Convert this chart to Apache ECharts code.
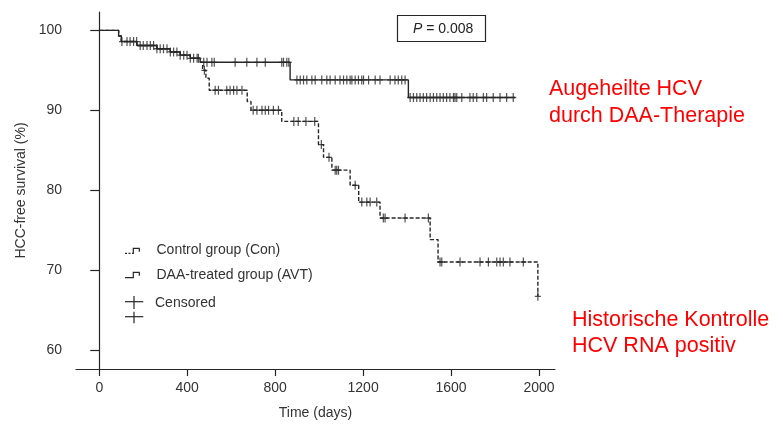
<!DOCTYPE html>
<html>
<head>
<meta charset="utf-8">
<script src="https://cdn.jsdelivr.net/npm/echarts@6/dist/echarts.min.js"></script>
<style>
  html, body { margin: 0; padding: 0; background: #fff; }
  #main { width: 783px; height: 425px; }
</style>
</head>
<body>
<div id="main"></div>
<script>
// Kaplan-Meier steps [day, survival %] (value holds until next point)
var daaSteps = [[0, 100], [88, 99.3], [100, 98.6], [171, 98.1], [262, 97.7], [323, 97.3], [368, 96.9], [414, 96.5],
  [459, 96.0], [868, 93.8], [1406, 91.6], [1891, 91.6]];
var conSteps = [[0, 100], [88, 99.3], [100, 98.6], [171, 98.1], [262, 97.7], [323, 97.3], [368, 96.9], [414, 96.5],
  [459, 96.0], [470, 95.0], [485, 94.0], [500, 92.5], [673, 91.1], [690, 90.0], [830, 88.6], [997, 85.7],
  [1020, 84.1], [1058, 82.5], [1141, 80.6], [1180, 78.5], [1277, 76.5], [1505, 73.8], [1541, 71.0], [1995, 66.7]];

// censored observation days
var daaCensor = [103, 126, 140, 156, 170, 186, 200, 217, 232, 247, 262, 277, 292, 308, 323, 338, 353, 368, 384, 399,
  414, 429, 445, 451, 475, 490, 512, 523, 618, 671, 717, 755, 830, 838, 853, 862,
  899, 914, 929, 944, 967, 982, 1012, 1035, 1050, 1073, 1095, 1111, 1126, 1141, 1149, 1164, 1179, 1194, 1202,
  1225, 1255, 1277, 1323, 1345, 1360, 1376, 1391,
  1414, 1429, 1444, 1459, 1474, 1489, 1505, 1520, 1535, 1550, 1565, 1580, 1595, 1611, 1618, 1626, 1649, 1686,
  1701, 1717, 1747, 1762, 1792, 1823, 1853, 1883];
var conCensor = [478, 527, 542, 580, 595, 611, 626, 649, 700, 717, 740, 755, 770, 792, 815, 885, 905, 940, 980,
  1010, 1045, 1073, 1080, 1088, 1164, 1194, 1217, 1232, 1262, 1292, 1300, 1391, 1497,
  1550, 1558, 1641, 1732, 1770, 1808, 1823, 1838, 1868, 1929, 1995];

var xTicks = [0, 400, 800, 1200, 1600, 2000];
var yTicks = [60, 70, 80, 90, 100];

var pText = 'P';
var pValue = ' = 0.008';
var legendNames = ['Control group (Con)', 'DAA-treated group (AVT)', 'Censored'];
var noteDaa = ['Augeheilte HCV', 'durch DAA-Therapie'];
var noteCon = ['Historische Kontrolle', 'HCV RNA positiv'];

var FONT = "'Liberation Sans', Arial, Helvetica, sans-serif";
var INK = '#262626';

// survival at a given day from step list
function valueAt(steps, day) {
  var v = steps[0][1];
  for (var i = 0; i < steps.length; i++) {
    if (steps[i][0] <= day) v = steps[i][1];
  }
  return v;
}
function censorPoints(steps, days) {
  return days.map(function (d) { return [d, valueAt(steps, d)]; });
}

var plus = 'path://M0,3.4L8,3.4L8,4.6L0,4.6Z M3.2,0L4.8,0L4.8,8L3.2,8Z';

var chart = echarts.init(document.getElementById('main'));
chart.setOption({
  animation: false,
  grid: { left: 76, right: 228, top: 12, bottom: 54 },
  xAxis: {
    type: 'value', min: -106, max: 2073,
    name: 'Time (days)', nameLocation: 'middle', nameGap: 37,
    nameTextStyle: { fontFamily: FONT, fontSize: 14, color: '#333' },
    axisLine: { show: true, onZero: false, lineStyle: { color: INK, width: 1.2 } },
    axisTick: { show: true, length: 7, customValues: xTicks, lineStyle: { color: INK, width: 1.2 } },
    axisLabel: { customValues: xTicks, margin: 12, fontFamily: FONT, fontSize: 14, color: '#333',
      formatter: function (v) { return String(v); } },
    splitLine: { show: false }
  },
  yAxis: {
    type: 'value', min: 57.6, max: 102.3,
    name: 'HCC-free survival (%)', nameLocation: 'middle', nameGap: 34, nameRotate: 90,
    nameTextStyle: { fontFamily: FONT, fontSize: 14, color: '#333' },
    axisLine: { show: true, lineStyle: { color: INK, width: 1.2 } },
    axisTick: { show: true, length: 9, customValues: yTicks, lineStyle: { color: INK, width: 1.2 } },
    axisLabel: { customValues: yTicks, margin: 14, fontFamily: FONT, fontSize: 14, color: '#333',
      formatter: function (v) { return String(v); } },
    splitLine: { show: false }
  },
  series: [
    {
      name: 'Control group (Con)', type: 'line', step: 'end', data: conSteps,
      showSymbol: false, silent: true,
      lineStyle: { color: INK, width: 1.4, type: [4, 2] }
    },
    {
      name: 'DAA-treated group (AVT)', type: 'line', step: 'end', data: daaSteps,
      showSymbol: false, silent: true,
      lineStyle: { color: INK, width: 1.4 }
    },
    {
      name: 'Censored', type: 'scatter', data: censorPoints(conSteps, conCensor),
      symbol: plus, symbolSize: [6, 9], silent: true,
      itemStyle: { color: INK }
    },
    {
      name: 'Censored', type: 'scatter', data: censorPoints(daaSteps, daaCensor),
      symbol: plus, symbolSize: [6, 9], silent: true,
      itemStyle: { color: INK }
    }
  ],
  graphic: [
    // p-value box
    { type: 'rect', shape: { x: 397.5, y: 15.5, width: 88, height: 26 },
      style: { fill: 'none', stroke: INK, lineWidth: 1.2 } },
    { type: 'text', x: 413, y: 29,
      style: { text: '{p|' + pText + '}' + pValue, fontFamily: FONT, fontSize: 14, fill: '#222',
        verticalAlign: 'middle',
        rich: { p: { fontStyle: 'italic', fontFamily: FONT, fontSize: 14, fill: '#222' } } } },
    // legend
    { type: 'line', shape: { x1: 125, y1: 253.3, x2: 132, y2: 253.3 },
      style: { stroke: INK, lineWidth: 1.2, lineDash: [2, 1.5] } },
    { type: 'polyline', shape: { points: [[132, 253.3], [133.3, 253.3], [133.3, 248.3], [139.3, 248.3], [139.3, 251.7]] },
      style: { stroke: INK, lineWidth: 1.2, fill: 'none' } },
    { type: 'polyline', shape: { points: [[125, 277.7], [133.3, 277.7], [133.3, 272.3], [139.3, 272.3], [139.3, 275.7]] },
      style: { stroke: INK, lineWidth: 1.2, fill: 'none' } },
    { type: 'line', shape: { x1: 125, y1: 301.7, x2: 143.3, y2: 301.7 }, style: { stroke: INK, lineWidth: 1.2 } },
    { type: 'line', shape: { x1: 134, y1: 296, x2: 134, y2: 309 }, style: { stroke: INK, lineWidth: 1.2 } },
    { type: 'line', shape: { x1: 125, y1: 316.7, x2: 143.3, y2: 316.7 }, style: { stroke: INK, lineWidth: 1.2 } },
    { type: 'line', shape: { x1: 134, y1: 311.7, x2: 134, y2: 323.3 }, style: { stroke: INK, lineWidth: 1.2 } },
    { type: 'text', x: 156.5, y: 250,
      style: { text: legendNames[0], fontFamily: FONT, fontSize: 14, fill: '#333', verticalAlign: 'middle' } },
    { type: 'text', x: 156.5, y: 275,
      style: { text: legendNames[1], fontFamily: FONT, fontSize: 14, fill: '#333', verticalAlign: 'middle' } },
    { type: 'text', x: 155, y: 303,
      style: { text: legendNames[2], fontFamily: FONT, fontSize: 14, fill: '#333', verticalAlign: 'middle' } },
    // red annotations
    { type: 'text', x: 549, y: 89,
      style: { text: noteDaa[0], fontFamily: FONT, fontSize: 21.5, fill: '#ff0000', verticalAlign: 'middle' } },
    { type: 'text', x: 549, y: 116,
      style: { text: noteDaa[1], fontFamily: FONT, fontSize: 21.5, fill: '#ff0000', verticalAlign: 'middle' } },
    { type: 'text', x: 572, y: 320,
      style: { text: noteCon[0], fontFamily: FONT, fontSize: 21.5, fill: '#ff0000', verticalAlign: 'middle' } },
    { type: 'text', x: 572, y: 346,
      style: { text: noteCon[1], fontFamily: FONT, fontSize: 21.5, fill: '#ff0000', verticalAlign: 'middle' } }
  ]
});
</script>
</body>
</html>
